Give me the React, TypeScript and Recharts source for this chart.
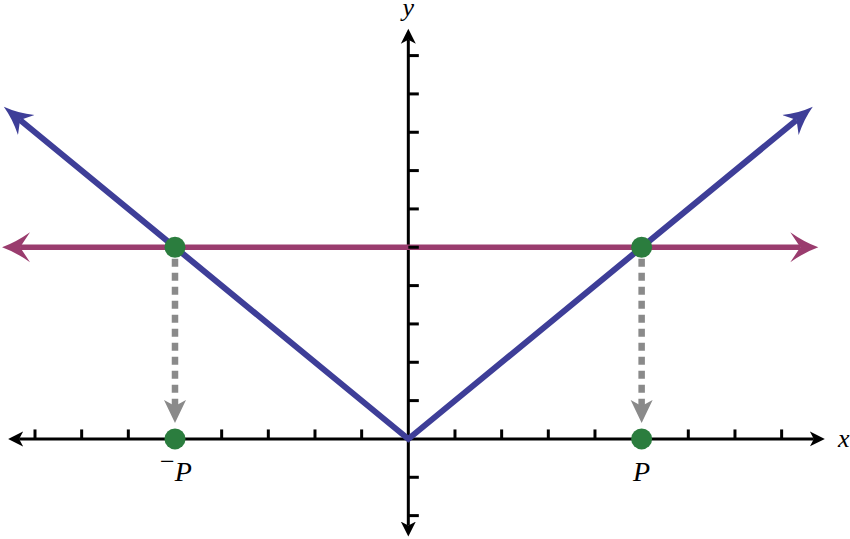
import React from 'react';
import { ComposedChart, Line, Scatter, XAxis, YAxis } from 'recharts';

// axis lines (ends sit at the notch of each arrowhead)
const xAxisLine = [{ x: -8.34, y: 0 }, { x: 8.69, y: 0 }];
const yAxisLine = [{ x: 0, y: 10.41 }, { x: 0, y: -2.26 }];
const xTicks = [-8, -7, -6, -5, -4, -3, -2, -1, 1, 2, 3, 4, 5, 6, 7, 8];
const yTicks = [-2, -1, 1, 2, 3, 4, 5, 6, 7, 8, 9, 10];

// y = |x|
const absLine = [{ x: -8.32, y: 8.32 }, { x: 0, y: 0 }, { x: 8.32, y: 8.32 }];
// y = P
const levelLine = [{ x: -8.32, y: 5 }, { x: 8.4, y: 5 }];

const dropLeft = [{ x: -5, y: 4.7 }, { x: -5, y: 0.86 }];
const dropRight = [{ x: 5, y: 4.7 }, { x: 5, y: 0.86 }];

const points = [
  { x: -5, y: 5 },
  { x: 5, y: 5 },
  { x: -5, y: 0 },
  { x: 5, y: 0 },
];

const axisNames = [
  { x: 9.33, y: 0, label: 'x' },
  { x: 0, y: 11.25, label: 'y' },
];
const pointNames = [
  { x: -5, y: 0, label: 'P', neg: true },
  { x: 5, y: 0, label: 'P', neg: false },
];

const BLUE = '#3e3e98';
const PINK = '#9a3c6e';
const GREEN = '#2b7d3e';
const GRAY = '#8a8a8a';
const serif = '"Liberation Serif", "Times New Roman", serif';

const XTick = (props: any) => (
  <line x1={props.cx} y1={props.cy} x2={props.cx} y2={props.cy - 9.5} stroke="#000" strokeWidth={3} />
);
const YTick = (props: any) => (
  <line x1={props.cx} y1={props.cy} x2={props.cx + 10.5} y2={props.cy} stroke="#000" strokeWidth={3} />
);
const Dot = (props: any) => <circle cx={props.cx} cy={props.cy} r={10.5} fill={GREEN} />;

const AxisName = (props: any) => (
  <text
    x={props.cx}
    y={props.cy + 8}
    textAnchor="middle"
    fontFamily={serif}
    fontStyle="italic"
    fontSize={26}
    fill="#000"
  >
    {props.payload.label}
  </text>
);

const PointName = (props: any) => {
  const { cx, cy, payload } = props;
  if (payload.neg) {
    return (
      <text x={cx + 1} y={cy + 42} textAnchor="middle" fontFamily={serif} fontSize={28} fill="#000">
        <tspan fontSize={26} dy={-11}>−</tspan>
        <tspan fontStyle="italic" dy={11}>{payload.label}</tspan>
      </text>
    );
  }
  return (
    <text x={cx} y={cy + 42} textAnchor="middle" fontFamily={serif} fontStyle="italic" fontSize={28} fill="#000">
      {payload.label}
    </text>
  );
};

export default function App() {
  return (
    <div style={{ position: 'absolute', left: 0, top: 0, width: 850, height: 539, background: '#fff' }}>
      <ComposedChart width={850} height={539} margin={{ top: 0, right: 0, bottom: 0, left: 0 }}>
        <defs>
          <marker id="arrBlack" viewBox="0 -9 16 18" markerUnits="userSpaceOnUse" markerWidth={16} markerHeight={18} refX={4} refY={0} orient="auto-start-reverse">
            <path d="M15,0 L0,-7.5 L4,0 L0,7.5 Z" fill="#000" />
          </marker>
          <marker id="arrBlue" viewBox="0 -15 30 30" markerUnits="userSpaceOnUse" markerWidth={30} markerHeight={30} refX={8} refY={0} orient="auto-start-reverse">
            <path d="M29,0 Q14,-4 0,-13 L8,0 L0,13 Q14,4 29,0 Z" fill={BLUE} />
          </marker>
          <marker id="arrPink" viewBox="0 -16 29 32" markerUnits="userSpaceOnUse" markerWidth={29} markerHeight={32} refX={10} refY={0} orient="auto-start-reverse">
            <path d="M28,0 Q14,-5 0,-15 L10,0 L0,15 Q14,5 28,0 Z" fill={PINK} />
          </marker>
          <marker id="arrGray" viewBox="0 -12 24 24" markerUnits="userSpaceOnUse" markerWidth={24} markerHeight={24} refX={6} refY={0} orient="auto">
            <path d="M23,0 L0,-11 L6,0 L0,11 Z" fill={GRAY} />
          </marker>
        </defs>
        <XAxis type="number" dataKey="x" domain={[-8.75, 9.465]} allowDataOverflow hide />
        <YAxis type="number" dataKey="y" domain={[-2.61, 11.45]} allowDataOverflow hide />

        <Line data={xAxisLine} dataKey="y" stroke="#000" strokeWidth={3} dot={false} activeDot={false}
          markerStart="url(#arrBlack)" markerEnd="url(#arrBlack)" isAnimationActive={false} />
        <Line data={yAxisLine} dataKey="y" stroke="#000" strokeWidth={3} dot={false} activeDot={false}
          markerStart="url(#arrBlack)" markerEnd="url(#arrBlack)" isAnimationActive={false} />
        <Scatter data={xTicks.map((x) => ({ x, y: 0 }))} shape={XTick} isAnimationActive={false} />
        <Scatter data={yTicks.map((y) => ({ x: 0, y }))} shape={YTick} isAnimationActive={false} />

        <Line data={levelLine} dataKey="y" stroke={PINK} strokeWidth={5.5} dot={false} activeDot={false}
          markerStart="url(#arrPink)" markerEnd="url(#arrPink)" isAnimationActive={false} />
        <Line data={absLine} dataKey="y" stroke={BLUE} strokeWidth={6} dot={false} activeDot={false}
          markerStart="url(#arrBlue)" markerEnd="url(#arrBlue)" isAnimationActive={false} />

        <Line data={dropLeft} dataKey="y" stroke={GRAY} strokeWidth={6.5} strokeDasharray="8 6" dot={false}
          activeDot={false} markerEnd="url(#arrGray)" isAnimationActive={false} />
        <Line data={dropRight} dataKey="y" stroke={GRAY} strokeWidth={6.5} strokeDasharray="8 6" dot={false}
          activeDot={false} markerEnd="url(#arrGray)" isAnimationActive={false} />

        <Scatter data={points} shape={Dot} isAnimationActive={false} />
        <Scatter data={axisNames} shape={AxisName} isAnimationActive={false} />
        <Scatter data={pointNames} shape={PointName} isAnimationActive={false} />
      </ComposedChart>
    </div>
  );
}
